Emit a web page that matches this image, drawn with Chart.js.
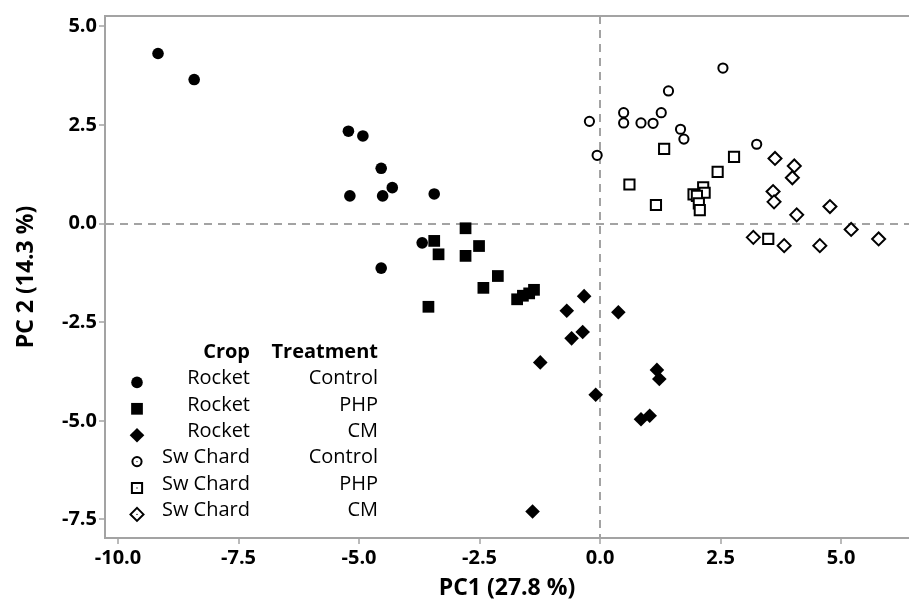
<!DOCTYPE html>
<html>
<head>
<meta charset="utf-8">
<script src="https://cdn.jsdelivr.net/npm/chart.js@4/dist/chart.umd.min.js"></script>
<style>
  html, body { margin: 0; padding: 0; background: #fff; }
  #pca { display: block; }
</style>
</head>
<body>
<canvas id="pca" width="909" height="605"></canvas>
<script>
// scores
const rocketControlX = [-9.17, -8.42, -5.22, -4.92, -5.19, -4.54, -4.51, -4.31, -3.44, -3.69, -4.54];
const rocketControlY = [4.31, 3.65, 2.34, 2.22, 0.70, 1.40, 0.70, 0.91, 0.75, -0.49, -1.13];

const rocketPhpX = [-3.44, -3.35, -2.79, -2.51, -2.79, -2.12, -2.42, -3.56, -1.72, -1.60, -1.47, -1.37];
const rocketPhpY = [-0.44, -0.78, -0.12, -0.57, -0.82, -1.33, -1.63, -2.11, -1.92, -1.83, -1.77, -1.68];

const rocketCmX = [-0.33, -0.69, 0.38, -0.36, -0.59, -1.24, 1.18, 1.23, -0.09, 0.85, 1.03, -1.40];
const rocketCmY = [-1.84, -2.21, -2.25, -2.75, -2.91, -3.52, -3.71, -3.94, -4.34, -4.96, -4.87, -7.30];

const chardControlX = [-0.22, -0.06, 0.49, 0.49, 0.85, 1.10, 1.27, 1.42, 1.67, 1.74, 2.55, 3.25];
const chardControlY = [2.59, 1.73, 2.81, 2.55, 2.55, 2.54, 2.81, 3.36, 2.39, 2.14, 3.94, 2.01];

const chardPhpX = [1.33, 2.78, 2.44, 0.61, 1.16, 2.14, 2.17, 1.94, 2.01, 2.05, 2.07, 3.49];
const chardPhpY = [1.89, 1.69, 1.31, 0.99, 0.47, 0.92, 0.78, 0.74, 0.70, 0.51, 0.34, -0.39];

const chardCmX = [3.63, 4.03, 3.99, 3.59, 3.61, 4.08, 4.77, 5.21, 5.78, 3.18, 3.82, 4.56];
const chardCmY = [1.65, 1.46, 1.16, 0.81, 0.55, 0.22, 0.43, -0.15, -0.39, -0.35, -0.56, -0.56];

const xTicks = [-10, -7.5, -5, -2.5, 0, 2.5, 5];
const yTicks = [-7.5, -5, -2.5, 0, 2.5, 5];

const legendCrops = ["Rocket", "Rocket", "Rocket", "Sw Chard", "Sw Chard", "Sw Chard"];
const legendTreatments = ["Control", "PHP", "CM", "Control", "PHP", "CM"];

const GREY = "#a3a3a3";
const FONT = "'Open Sans', 'DejaVu Sans', sans-serif";

function pts(xs, ys) {
  return xs.map((x, i) => ({ x: x, y: ys[i] }));
}

// marker look per group, same order as the legend
const markers = [
  { style: "circle", r: 5.8, open: false },
  { style: "rect", r: 8.3, open: false },
  { style: "rectRot", r: 7.3, open: false },
  { style: "circle", r: 4.6, open: true },
  { style: "rect", r: 7.2, open: true },
  { style: "rectRot", r: 6.5, open: true }
];
const groups = [
  pts(rocketControlX, rocketControlY),
  pts(rocketPhpX, rocketPhpY),
  pts(rocketCmX, rocketCmY),
  pts(chardControlX, chardControlY),
  pts(chardPhpX, chardPhpY),
  pts(chardCmX, chardCmY)
];

const datasets = groups.map((data, i) => {
  const m = markers[i];
  return {
    label: legendCrops[i] + " " + legendTreatments[i],
    data: data,
    pointStyle: m.style,
    pointRadius: m.r,
    backgroundColor: m.open ? "#fff" : "#000",
    borderColor: "#000",
    borderWidth: m.open ? 2 : 0
  };
});
// the small centre dot of the open markers
groups.slice(3).forEach(data => {
  datasets.push({
    data: data,
    pointStyle: "circle",
    pointRadius: 0.7,
    backgroundColor: "#000",
    borderWidth: 0
  });
});

function drawMarker(ctx, m, x, y) {
  ctx.save();
  ctx.fillStyle = m.open ? "#fff" : "#000";
  ctx.strokeStyle = "#000";
  ctx.lineWidth = m.open ? 2 : 0;
  Chart.helpers.drawPoint(ctx, { pointStyle: m.style, radius: m.r, rotation: 0, borderWidth: m.open ? 2 : 0 }, x, y);
  if (m.open) {
    ctx.fillStyle = "#000";
    ctx.beginPath();
    ctx.arc(x, y, 0.7, 0, Math.PI * 2);
    ctx.fill();
  }
  ctx.restore();
}

const cropTable = {
  id: "cropTable",
  afterDatasetsDraw(chart) {
    const ctx = chart.ctx;
    const area = chart.chartArea;
    const markerX = area.left + 32;
    const cropRight = area.left + 145;
    const treatRight = area.left + 273;
    const headY = area.bottom - 186;
    const rowGap = 26.4;

    ctx.save();
    ctx.fillStyle = "#000";
    ctx.textAlign = "right";
    ctx.textBaseline = "middle";
    ctx.font = "bold 20px " + FONT;
    ctx.fillText("Crop", cropRight, headY);
    ctx.fillText("Treatment", treatRight, headY);
    ctx.font = "20px " + FONT;
    legendCrops.forEach((crop, i) => {
      const y = headY + rowGap * (i + 1);
      ctx.fillText(crop, cropRight, y);
      ctx.fillText(legendTreatments[i], treatRight, y);
      drawMarker(ctx, markers[i], markerX, y + 4);
    });
    ctx.restore();
  }
};

const zeroOnly = c => (c.tick && c.tick.value === 0 ? GREY : "rgba(0,0,0,0)");

new Chart(document.getElementById("pca"), {
  type: "scatter",
  data: { datasets: datasets },
  plugins: [cropTable],
  options: {
    responsive: false,
    animation: false,
    layout: { autoPadding: false, padding: { top: 16, left: 0, right: 0, bottom: 0 } },
    plugins: { legend: { display: false }, tooltip: { enabled: false } },
    scales: {
      x: {
        type: "linear",
        position: "bottom",
        min: -10.27,
        max: 6.41,
        afterBuildTicks: s => { s.ticks = xTicks.map(v => ({ value: v })); },
        afterFit: s => { s.height = 67; s.paddingLeft = 0; s.paddingRight = 0; },
        ticks: {
          autoSkip: false,
          maxRotation: 0,
          padding: 2,
          color: "#000",
          font: { family: FONT, size: 20, weight: "bold" },
          callback: v => v.toFixed(1)
        },
        grid: { color: zeroOnly, lineWidth: 2, tickColor: GREY, tickWidth: 1.5, tickLength: 6 },
        border: { color: GREY, width: 2, dash: [8, 6] },
        title: {
          display: true,
          text: "PC1 (27.8 %)",
          color: "#000",
          font: { family: FONT, size: 23, weight: "bold" },
          padding: { top: 0, bottom: 3 }
        }
      },
      xTop: {
        type: "linear",
        position: "top",
        min: -10.27,
        max: 6.41,
        afterFit: s => { s.height = 0; s.paddingLeft = 0; s.paddingRight = 0; },
        ticks: { display: false },
        grid: { display: false },
        border: { color: GREY, width: 2 }
      },
      y: {
        type: "linear",
        position: "left",
        min: -7.97,
        max: 5.26,
        afterBuildTicks: s => { s.ticks = yTicks.map(v => ({ value: v })); },
        afterFit: s => { s.width = 105; s.paddingTop = 0; s.paddingBottom = 0; },
        ticks: {
          autoSkip: false,
          padding: 2,
          color: "#000",
          font: { family: FONT, size: 20, weight: "bold" },
          callback: v => v.toFixed(1)
        },
        grid: { color: zeroOnly, lineWidth: 2, tickColor: GREY, tickWidth: 1.5, tickLength: 6 },
        border: { color: GREY, width: 2, dash: [8, 6] },
        title: {
          display: true,
          text: "PC 2 (14.3 %)",
          color: "#000",
          font: { family: FONT, size: 23, weight: "bold" },
          padding: { top: 13, bottom: 0 }
        }
      }
    }
  }
});
</script>
</body>
</html>
